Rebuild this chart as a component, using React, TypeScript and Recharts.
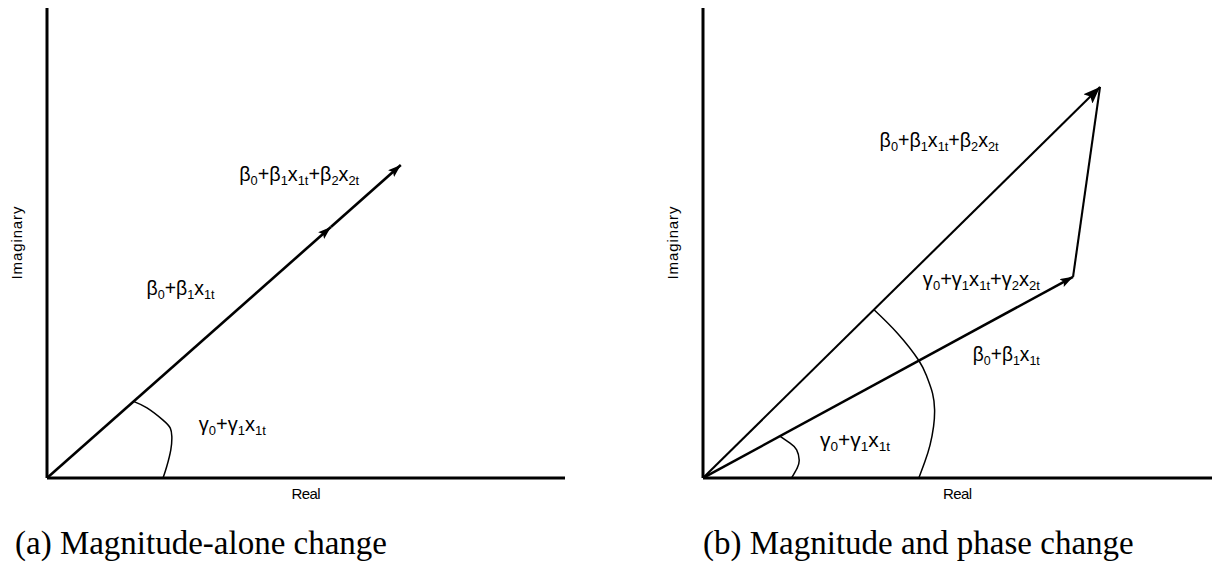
import React from "react";
import { ComposedChart, Line, XAxis, YAxis, ReferenceDot } from "recharts";

// both panels use 0..100 on each axis (share of the plot width / height)

// (a) magnitude-alone change
const vecA_first = [
  { x: 0, y: 0 },
  { x: 54.8, y: 53.4 },
];
const vecA_second = [
  { x: 54.8, y: 53.4 },
  { x: 68.3, y: 66.6 },
];
const arcA = [
  { x: 16.7, y: 16.3 },
  { x: 19.3, y: 14.9 },
  { x: 22.4, y: 12.3 },
  { x: 23.8, y: 10.6 },
  { x: 24.1, y: 8.8 },
  { x: 23.9, y: 6.0 },
  { x: 23.1, y: 2.4 },
  { x: 22.4, y: 0 },
];
const labelsA = [
  { x: 37.1, y: 64.0, tex: "β_{0}+β_{1}x_{1t}+β_{2}x_{2t}" },
  { x: 19.2, y: 39.8, tex: "β_{0}+β_{1}x_{1t}" },
  { x: 29.3, y: 10.9, tex: "γ_{0}+γ_{1}x_{1t}" },
];

// (b) magnitude and phase change
const vecB_long = [
  { x: 0, y: 0 },
  { x: 78.0, y: 83.2 },
];
const vecB_short = [
  { x: 0, y: 0 },
  { x: 72.7, y: 42.8 },
];
const vecB_link = [
  { x: 72.7, y: 42.8 },
  { x: 78.0, y: 83.2 },
];
const arcB_small = [
  { x: 15.1, y: 8.9 },
  { x: 17.1, y: 7.4 },
  { x: 18.4, y: 6.0 },
  { x: 18.9, y: 3.8 },
  { x: 18.5, y: 2.1 },
  { x: 17.4, y: 0 },
];
const arcB_big = [
  { x: 33.6, y: 35.8 },
  { x: 38.2, y: 30.8 },
  { x: 42.4, y: 25.0 },
  { x: 44.0, y: 21.5 },
  { x: 45.1, y: 18.0 },
  { x: 45.5, y: 14.5 },
  { x: 45.3, y: 11.0 },
  { x: 44.6, y: 7.0 },
  { x: 43.6, y: 3.5 },
  { x: 42.4, y: 0 },
];
const labelsB = [
  { x: 34.7, y: 71.3, tex: "β_{0}+β_{1}x_{1t}+β_{2}x_{2t}" },
  { x: 43.2, y: 41.8, tex: "γ_{0}+γ_{1}x_{1t}+γ_{2}x_{2t}" },
  { x: 53.0, y: 25.8, tex: "β_{0}+β_{1}x_{1t}" },
  { x: 23.0, y: 7.4, tex: "γ_{0}+γ_{1}x_{1t}" },
];

const captions = ["(a) Magnitude-alone change", "(b) Magnitude and phase change"];

// rendered widths of the formula labels (px)
const widthsA = [120, 68, 67];
const widthsB = [119, 117, 67, 70];

const SANS = '"Liberation Sans", Arial, sans-serif';

const parseTex = (s: string) => {
  const out: { t: string; sub: boolean }[] = [];
  const re = /_\{([^}]*)\}|[^_]+/g;
  let m: RegExpExecArray | null;
  while ((m = re.exec(s))) {
    out.push(m[1] !== undefined ? { t: m[1], sub: true } : { t: m[0], sub: false });
  }
  return out;
};

function MathText({ cx, cy, tex, width }: { cx: number; cy: number; tex: string; width: number }) {
  const parts = parseTex(tex);
  let prevSub = false;
  return (
    <text
      x={cx}
      y={cy - 3}
      fontFamily={SANS}
      fontSize={20}
      fill="#000"
      dominantBaseline="central"
      textLength={width}
      lengthAdjust="spacingAndGlyphs"
    >
      {parts.map((p, i) => {
        const dy = p.sub === prevSub ? 0 : p.sub ? 6 : -6;
        prevSub = p.sub;
        return (
          <tspan key={i} dy={dy} fontSize={p.sub ? 13 : 20}>
            {p.t}
          </tspan>
        );
      })}
    </text>
  );
}

const imagLabel = (props: any) => {
  const vb = props.viewBox;
  const x = vb.x + vb.width - 31;
  const y = vb.y + vb.height / 2;
  return (
    <text
      x={x}
      y={y}
      transform={`rotate(-90 ${x} ${y})`}
      textAnchor="middle"
      dominantBaseline="central"
      fontFamily={SANS}
      fontSize={15}
      textLength={73}
      fill="#000"
    >
      Imaginary
    </text>
  );
};

const realLabel = (props: any) => {
  const vb = props.viewBox;
  return (
    <text
      x={vb.x + vb.width / 2}
      y={vb.y + 15}
      textAnchor="middle"
      dominantBaseline="central"
      fontFamily={SANS}
      fontSize={15}
      textLength={29}
      fill="#000"
    >
      Real
    </text>
  );
};

function Head({ id, len, wid }: { id: string; len: number; wid: number }) {
  return (
    <marker
      id={id}
      viewBox={`0 0 ${len} ${wid}`}
      refX={len}
      refY={wid / 2}
      markerWidth={len}
      markerHeight={wid}
      markerUnits="userSpaceOnUse"
      orient="auto"
    >
      <path d={`M0,0 L${len},${wid / 2} L0,${wid} L${len * 0.2},${wid / 2} z`} fill="#000" />
    </marker>
  );
}

const axisLine = { stroke: "#000", strokeWidth: 3 };

function Panel({
  width,
  yWidth,
  right,
  children,
}: {
  width: number;
  yWidth: number;
  right: number;
  children: React.ReactNode;
}) {
  return (
    <ComposedChart width={width} height={500} margin={{ top: 8, right, bottom: 0, left: 0 }}>
      <defs>
        <Head id={`hs${yWidth}`} len={13} wid={9} />
        <Head id={`hb${yWidth}`} len={17} wid={13} />
      </defs>
      <XAxis
        type="number"
        dataKey="x"
        domain={[0, 100]}
        allowDataOverflow
        tick={false}
        tickLine={false}
        axisLine={axisLine}
        height={22}
        label={realLabel}
      />
      <YAxis
        type="number"
        dataKey="y"
        domain={[0, 100]}
        allowDataOverflow
        tick={false}
        tickLine={false}
        axisLine={axisLine}
        width={yWidth}
        label={imagLabel}
      />
      {children}
    </ComposedChart>
  );
}

const seg = (data: { x: number; y: number }[], w: number, head?: string, curve = false) => (
  <Line
    data={data}
    dataKey="y"
    type={curve ? "natural" : "linear"}
    dot={false}
    activeDot={false}
    stroke="#000"
    strokeWidth={w}
    markerEnd={head ? `url(#${head})` : undefined}
    isAnimationActive={false}
  />
);

const labelDots = (labels: { x: number; y: number; tex: string }[], widths: number[]) =>
  labels.map((l, i) => (
    <ReferenceDot
      key={i}
      x={l.x}
      y={l.y}
      r={0}
      fill="none"
      stroke="none"
      shape={(p: any) => <MathText cx={p.cx} cy={p.cy} tex={l.tex} width={widths[i]} />}
    />
  ));

export default function App() {
  return (
    <div style={{ position: "absolute", left: 0, top: 0, width: 1212, height: 565, background: "#fff" }}>
      <div style={{ position: "absolute", left: 0, top: 0 }}>
        <Panel width={600} yWidth={47} right={35}>
          {seg(vecA_first, 2.6, "hs47")}
          {seg(vecA_second, 2.6, "hs47")}
          {seg(arcA, 1.5, undefined, true)}
          {labelDots(labelsA, widthsA)}
        </Panel>
      </div>
      <div style={{ position: "absolute", left: 606, top: 0 }}>
        <Panel width={606} yWidth={97} right={0}>
          {seg(vecB_long, 2.1, "hb97")}
          {seg(vecB_short, 2.5, "hs97")}
          {seg(vecB_link, 2.1)}
          {seg(arcB_small, 1.5, undefined, true)}
          {seg(arcB_big, 1.5, undefined, true)}
          {labelDots(labelsB, widthsB)}
        </Panel>
      </div>
      {captions.map((c, i) => (
        <div
          key={c}
          style={{
            position: "absolute",
            left: i === 0 ? 15 : 703,
            top: 527,
            fontFamily: '"Liberation Serif", "DejaVu Serif", serif',
            fontSize: 33,
            lineHeight: "33px",
            whiteSpace: "nowrap",
            color: "#000",
          }}
        >
          {c}
        </div>
      ))}
    </div>
  );
}
